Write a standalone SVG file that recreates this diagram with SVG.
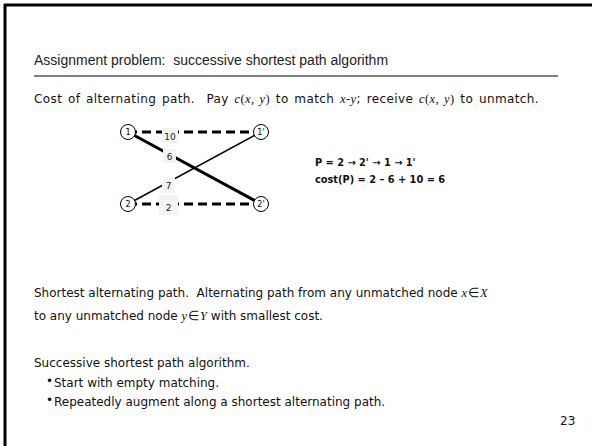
<svg xmlns="http://www.w3.org/2000/svg" width="592" height="446" viewBox="0 0 592 446">
<style>
.body{font-family:"DejaVu Sans","Liberation Sans",sans-serif;font-size:12px;fill:#111}
.m{font-family:"Liberation Serif",serif;font-style:italic;font-size:12.5px}
.r{font-family:"Liberation Serif",serif;font-size:12.5px}
.title{font-family:"Liberation Sans",sans-serif;font-size:14px;fill:#222}
.node circle{fill:#fff;stroke:#000;stroke-width:1}
.node text{font-family:"DejaVu Sans",sans-serif;font-size:8px;text-anchor:middle;fill:#000}
.lbl rect{fill:#f3f3f3}
.lbl text{font-family:"DejaVu Sans",sans-serif;font-size:9px;text-anchor:middle;fill:#222}
.bold{font-family:"DejaVu Sans",sans-serif;font-size:9.8px;font-weight:bold;fill:#111}
</style>
<rect width="592" height="446" fill="#fff"/>
<line x1="4" y1="5" x2="592" y2="5" stroke="#000" stroke-width="3"/>
<line x1="5" y1="4" x2="5" y2="446" stroke="#000" stroke-width="3"/>
<text class="title" x="34" y="65" xml:space="preserve">Assignment problem:  successive shortest path algorithm</text>
<line x1="34" y1="76" x2="558" y2="76" stroke="#000" stroke-width="1"/>
<text class="body" x="34" y="103" xml:space="preserve" letter-spacing="0.4" word-spacing="1.5">Cost of alternating path.  Pay <tspan class="m">c</tspan><tspan class="r">(</tspan><tspan class="m">x</tspan><tspan class="r">, </tspan><tspan class="m">y</tspan><tspan class="r">)</tspan> to match <tspan class="m">x</tspan><tspan class="r">-</tspan><tspan class="m">y</tspan>; receive <tspan class="m">c</tspan><tspan class="r">(</tspan><tspan class="m">x</tspan><tspan class="r">, </tspan><tspan class="m">y</tspan><tspan class="r">)</tspan> to unmatch.</text>
<g id="connectors">
<line x1="128" y1="132" x2="261" y2="132" stroke="#000" stroke-width="3" stroke-dasharray="9,5"/>
<line x1="128" y1="204" x2="261" y2="204" stroke="#000" stroke-width="3" stroke-dasharray="9,5"/>
<line x1="128" y1="132" x2="261" y2="204" stroke="#000" stroke-width="3"/>
<line x1="128" y1="204" x2="261" y2="132" stroke="#000" stroke-width="1.5"/>
<g class="lbl"><rect x="162" y="128" width="16" height="15"/><text x="170" y="140">10</text></g>
<g class="lbl"><rect x="163" y="149" width="13" height="14"/><text x="169.5" y="160">6</text></g>
<g class="lbl"><rect x="162" y="177" width="13" height="16"/><text x="168.5" y="189">7</text></g>
<g class="lbl"><rect x="159" y="195" width="19" height="20"/><text x="168.5" y="211">2</text></g>
</g>
<g id="n1" class="node"><circle cx="128" cy="132" r="7.5"/><text x="128" y="135">1</text></g>
<g id="n1p" class="node"><circle cx="261" cy="132" r="7.5"/><text x="261" y="135">1'</text></g>
<g id="n2" class="node"><circle cx="128" cy="204" r="7.5"/><text x="128" y="207">2</text></g>
<g id="n2p" class="node"><circle cx="261" cy="204" r="7.5"/><text x="261" y="207">2'</text></g>
<text class="bold" x="315" y="166">P = 2 → 2' → 1 → 1'</text>
<text class="bold" x="315" y="183">cost(P) = 2 – 6 + 10 = 6</text>
<text class="body" x="34" y="297" xml:space="preserve">Shortest alternating path.  Alternating path from any unmatched node <tspan class="m">x</tspan><tspan class="r" dx="1">∈</tspan><tspan class="m" dx="1">X</tspan></text>
<text class="body" x="34" y="320" xml:space="preserve">to any unmatched node <tspan class="m">y</tspan><tspan class="r" dx="1">∈</tspan><tspan class="m" dx="1">Y</tspan> with smallest cost.</text>
<text class="body" x="34" y="367">Successive shortest path algorithm.</text>
<text class="body" x="46" y="385" font-size="7">•</text>
<text class="body" x="54" y="387">Start with empty matching.</text>
<text class="body" x="46" y="404" font-size="7">•</text>
<text class="body" x="54" y="406">Repeatedly augment along a shortest alternating path.</text>
<text class="body" x="560" y="425" font-size="8">23</text>
</svg>
